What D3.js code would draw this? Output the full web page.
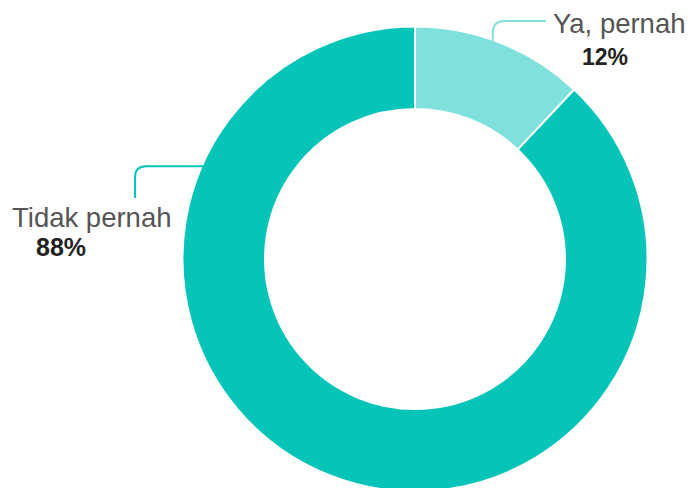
<!DOCTYPE html>
<html>
<head>
<meta charset="utf-8">
<script src="https://cdn.jsdelivr.net/npm/d3@7"></script>
<style>
  body { margin: 0; background: #fff; }
  svg { display: block; }
  .lbl { font-family: "Liberation Sans", Arial, sans-serif; fill: #555; }
  .pct { font-family: "Liberation Sans", Arial, sans-serif; font-weight: 700; fill: #222; }
</style>
</head>
<body>
<script>
// data
var categories = ["Ya, pernah", "Tidak pernah"];
var shares = [12, 88];
var pctLabels = ["12%", "88%"];
var colors = ["#80e1dc", "#06c5b8"];

var width = 688,
    height = 488;

var svg = d3.select("body")
    .append("svg")
    .attr("width", width)
    .attr("height", height);

var cx = 415, cy = 259,
    outerR = 232.5, innerR = 150;

var g = svg.append("g")
    .attr("transform", "translate(" + cx + "," + cy + ")");

var pie = d3.pie()
    .sort(null)
    .value(function(d){ return d; });

var arc = d3.arc()
    .innerRadius(innerR)
    .outerRadius(outerR);

var slices = pie(shares);

g.selectAll(".slice")
    .data(slices)
    .enter()
    .append("path")
    .attr("class", "slice")
    .attr("d", arc)
    .attr("fill", function(d, i){ return colors[i]; })
    .attr("stroke", "#fff")
    .attr("stroke-width", 2);

// leader lines (elbow with rounded corner)
function polar(angle, r){
    return [cx + r * Math.sin(angle), cy - r * Math.cos(angle)];
}

// Ya, pernah: up from the slice then right
var a0 = polar(0.385, 207);
var yaTop = 21, yaEnd = 546, rr = 12;
svg.append("path")
    .attr("d", "M" + a0[0] + "," + a0[1] +
        " V" + (yaTop + rr) +
        " Q" + a0[0] + "," + yaTop + " " + (a0[0] + rr) + "," + yaTop +
        " H" + yaEnd)
    .attr("fill", "none")
    .attr("stroke", colors[0])
    .attr("stroke-width", 2);

// Tidak pernah: left from ring edge then down
var a1 = polar(5.125, outerR - 1);
var tkX = 135, tkEnd = 198, rr2 = 11;
svg.append("path")
    .attr("d", "M" + a1[0] + "," + a1[1] +
        " H" + (tkX + rr2) +
        " Q" + tkX + "," + a1[1] + " " + tkX + "," + (a1[1] + rr2) +
        " V" + tkEnd)
    .attr("fill", "none")
    .attr("stroke", colors[1])
    .attr("stroke-width", 2);

// labels
svg.append("text").attr("class", "lbl")
    .attr("x", 553).attr("y", 33)
    .style("font-size", "27.5px")
    .text(categories[0]);
svg.append("text").attr("class", "pct")
    .attr("x", 582).attr("y", 65)
    .style("font-size", "23px")
    .text(pctLabels[0]);

svg.append("text").attr("class", "lbl")
    .attr("x", 12).attr("y", 227)
    .style("font-size", "27.5px")
    .text(categories[1]);
svg.append("text").attr("class", "pct")
    .attr("x", 36).attr("y", 256)
    .style("font-size", "25px")
    .text(pctLabels[1]);
</script>
</body>
</html>
